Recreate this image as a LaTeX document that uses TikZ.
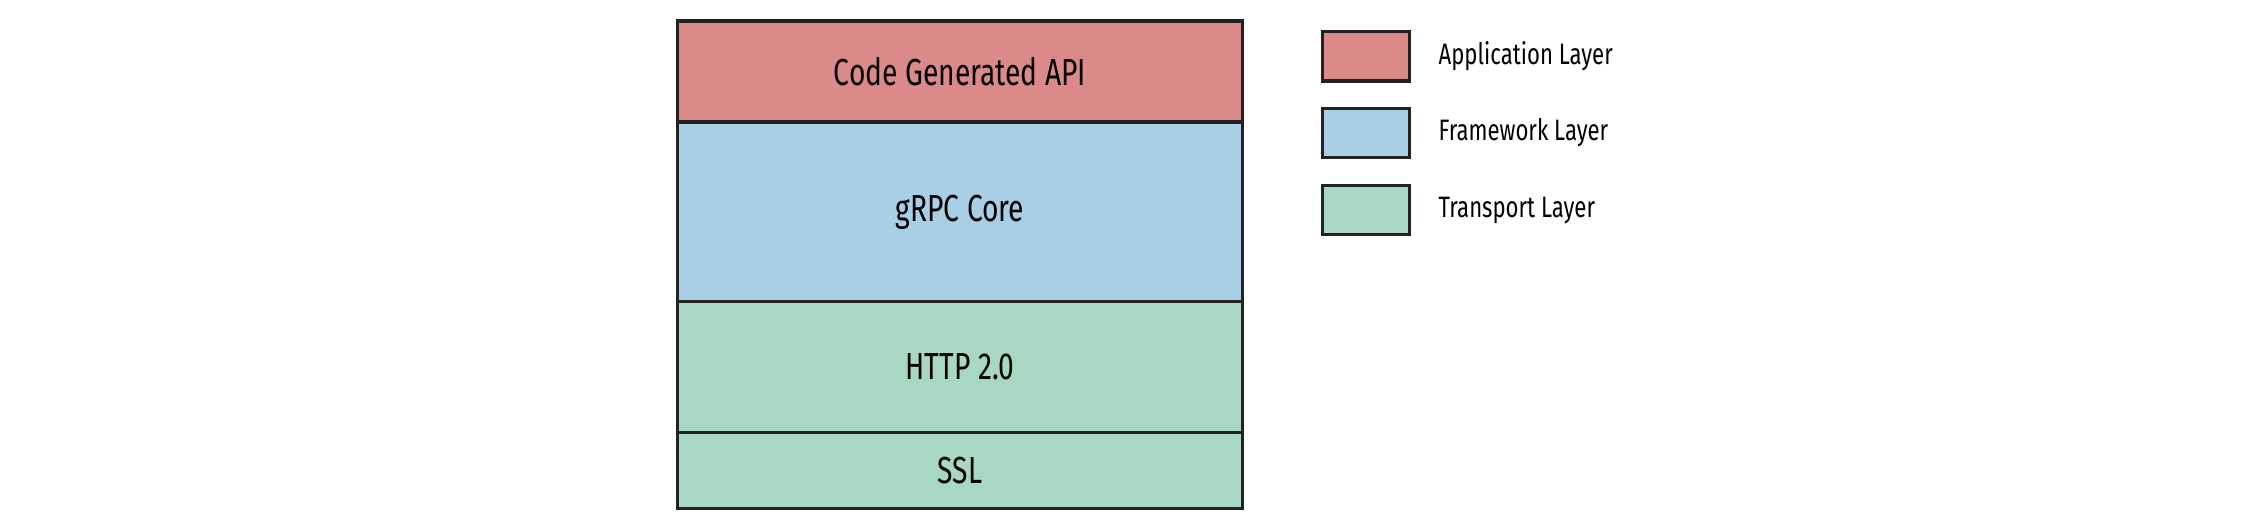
\documentclass[tikz,border=0pt]{standalone}
\usepackage{fontspec}
\setmainfont{Fira Sans}[FakeStretch=0.75]
\usetikzlibrary{positioning}
\definecolor{appred}{HTML}{DC898A}
\definecolor{fwblue}{HTML}{A8CFE5}
\definecolor{trgreen}{HTML}{A8D7C3}
\definecolor{edge}{HTML}{222222}
\begin{document}
\begin{tikzpicture}
    [
    x=0.01cm,y=-0.01cm,
    layer/.style={draw=edge,line width=0.9pt,rectangle,inner sep=0pt,minimum width=5.64cm,font=\fontsize{10.7}{12}\selectfont},
    key/.style={draw=edge,line width=0.9pt,rectangle,inner sep=0pt,minimum width=0.866cm,minimum height=0.495cm},
    keytext/.style={inner sep=0pt,anchor=west,font=\fontsize{8.4}{10}\selectfont}
    ]
    \useasboundingbox (0,0) rectangle (2268,521);
    \node (api) at (960,71.5) [layer,fill=appred,minimum height=1.01cm] {Code Generated API};
    \node (core) at (960,212) [layer,fill=fwblue,minimum height=1.797cm] {gRPC Core};
    \node (http) at (960,367.2) [layer,fill=trgreen,minimum height=1.31cm] {HTTP 2.0};
    \node (ssl) at (960,470.7) [layer,fill=trgreen,minimum height=0.76cm] {SSL};
    \node (appkey) at (1366,56.3) [key,fill=appred] {};
    \node (fwkey) at (1366,133) [key,fill=fwblue] {};
    \node (trkey) at (1366,210) [key,fill=trgreen] {};
    \node (applabel) [keytext,right=0.27cm of appkey.east] {Application Layer};
    \node (fwlabel) [keytext,right=0.27cm of fwkey.east] {Framework Layer};
    \node (trlabel) [keytext,right=0.27cm of trkey.east] {Transport Layer};
  \end{tikzpicture}
\end{document}
